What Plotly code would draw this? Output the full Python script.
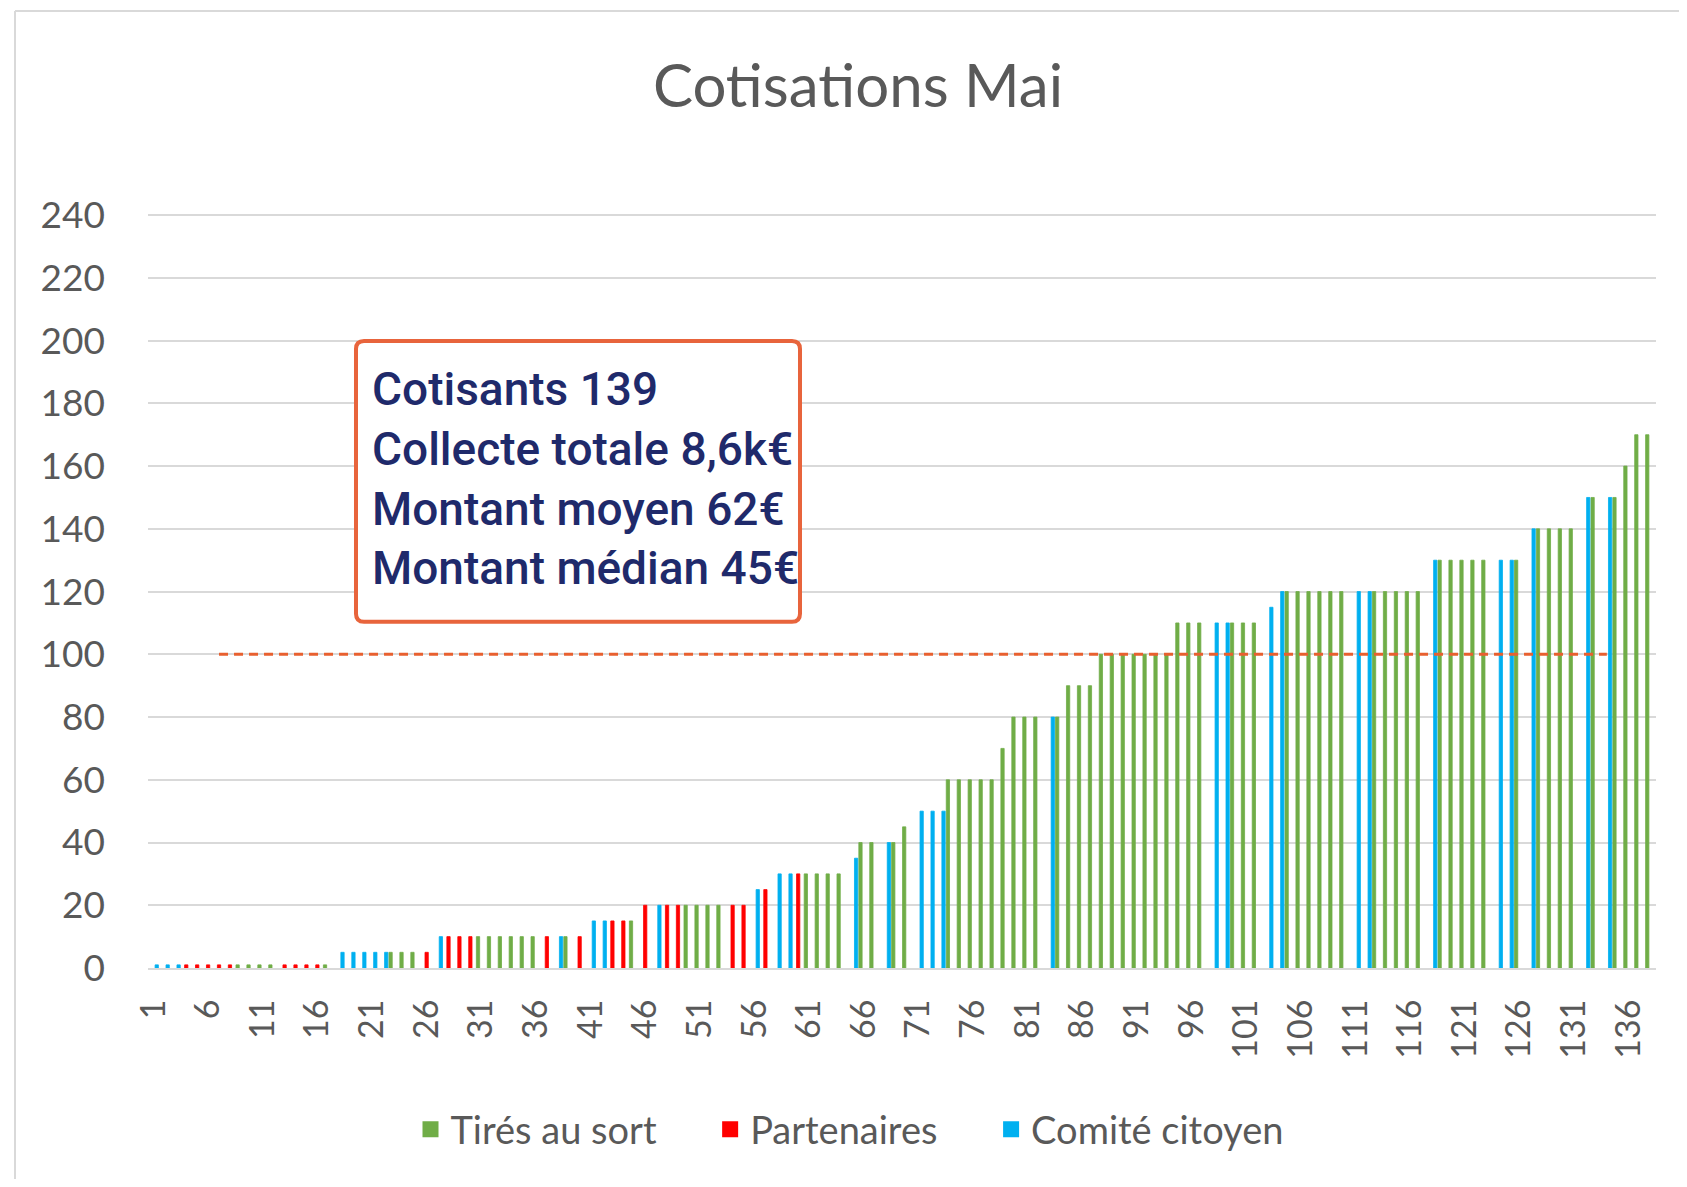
import plotly.graph_objects as go

# ---------------- data ----------------
contributor_ids = list(range(1, 139))

amounts = [
    1, 1, 1, 1, 1, 1, 1, 1, 1, 1, 1, 1, 1, 1, 1, 1, 1,          # 1-17
    5, 5, 5, 5, 5, 5, 5, 5, 5,                                  # 18-26
    10, 10, 10, 10, 10, 10, 10, 10, 10, 10, 10, 10, 10, 10,     # 27-40
    15, 15, 15, 15, 15,                                         # 41-45
    20, 20, 20, 20, 20, 20, 20, 20, 20, 20,                     # 46-55
    25, 25,                                                     # 56-57
    30, 30, 30, 30, 30, 30, 30,                                 # 58-64
    35,                                                         # 65
    40, 40, 40, 40,                                             # 66-69
    45,                                                         # 70
    50, 50, 50,                                                 # 71-73
    60, 60, 60, 60, 60,                                         # 74-78
    70,                                                         # 79
    80, 80, 80, 80, 80,                                         # 80-84
    90, 90, 90,                                                 # 85-87
    100, 100, 100, 100, 100, 100, 100,                          # 88-94
    110, 110, 110, 110, 110, 110, 110, 110,                     # 95-102
    115,                                                        # 103
    120, 120, 120, 120, 120, 120, 120, 120, 120, 120, 120, 120, 120, 120,  # 104-117
    130, 130, 130, 130, 130, 130, 130, 130, 130,                # 118-126
    140, 140, 140, 140, 140,                                    # 127-131
    150, 150, 150, 150,                                         # 132-135
    160, 170, 170,                                              # 136-138
]

# T = Tirés au sort, P = Partenaires, C = Comité citoyen
group_codes = list(
    "CCCPPPPPTTTTPPPPT"
    "CCCCCTTTP"
    "CPPPTTTTTTPCTP"
    "CCPPT"
    "PCPPTTTTPP"
    "CP"
    "CCPTTTT"
    "CTTCTT"
    "CCC"
    "TTTTTTTTT"
    "C"
    "TTTTTTTTTTTTTT"
    "CCTTTCCTTTTTTCCTTTTTCTTTTTCCTCTTTTCTCTTTT"
)

series_names = {"T": "Tirés au sort", "P": "Partenaires", "C": "Comité citoyen"}
series_colors = {"T": "#70AD47", "P": "#FF0000", "C": "#00B0F0"}
series_order = ["T", "P", "C"]

x_tick_values = [1, 6, 11, 16, 21, 26, 31, 36, 41, 46, 51, 56, 61, 66, 71, 76,
                 81, 86, 91, 96, 101, 106, 111, 116, 121, 126, 131, 136]
y_tick_values = [0, 20, 40, 60, 80, 100, 120, 140, 160, 180, 200, 220, 240]

reference_line_value = 100
reference_line_start = 7
reference_line_end = 134

summary_lines = [
    "Cotisants 139",
    "Collecte totale 8,6k€",
    "Montant moyen 62€",
    "Montant médian 45€",
]

title_text = "Cotisations Mai"

# ---------------- geometry (reference pixels, page has 8px body margin) ----
OFF = 8
FW, FH = 1687 - 2 * OFF, 1187 - 2 * OFF
Y_TOP = 241
unit = (968.3 - 215.2) / 240
L_ref, R_ref, B_ref = 148, 1656, 968.3
T_ref = B_ref - Y_TOP * unit
L, R, T, B = L_ref - OFF, R_ref - OFF, T_ref - OFF, B_ref - OFF
W, H = R - L, B - T


def px(x):  # reference x pixel -> paper
    return (x - OFF - L) / W


def py(y):  # reference y pixel -> paper
    return (B - (y - OFF)) / H


# ---------------- figure ----------------
fig = go.Figure()

for code in series_order:
    ys = [a if g == code else None for a, g in zip(amounts, group_codes)]
    fig.add_trace(go.Bar(
        x=contributor_ids, y=ys, name=series_names[code],
        marker=dict(color=series_colors[code],
                    line=dict(width=0.8, color=series_colors[code])),
        showlegend=False, legendgroup=code,
    ))

# legend entries with square swatches
NBSP = "\u00a0"
for code in series_order:
    fig.add_trace(go.Scatter(
        x=[None], y=[None], mode="markers",
        name=series_names[code] + NBSP * 5,
        marker=dict(symbol="square", size=20, color=series_colors[code]),
        legendgroup=code, showlegend=True,
    ))

fig.add_trace(go.Scatter(
    x=[reference_line_start, reference_line_end],
    y=[reference_line_value, reference_line_value],
    mode="lines", showlegend=False, hoverinfo="skip",
    line=dict(color="#E8602F", width=3, dash="9px,6px"),
))

grey = "#595959"
font_family = "Lato, 'Open Sans', sans-serif"

shapes = []
# chart outer border (left and top)
shapes.append(dict(type="line", xref="paper", yref="paper",
                   x0=px(15), x1=px(15), y0=py(11), y1=py(1190),
                   line=dict(color="#D9D9D9", width=2)))
shapes.append(dict(type="line", xref="paper", yref="paper",
                   x0=px(15), x1=px(1690), y0=py(11), y1=py(11),
                   line=dict(color="#D9D9D9", width=2)))

# rounded text box
bx0, bx1, by0, by1, rad = 356, 800, 341, 622, 8


def P(x, y):
    return f"{px(x):.5f},{py(y):.5f}"


path = (f"M {P(bx0 + rad, by0)} L {P(bx1 - rad, by0)} Q {P(bx1, by0)} {P(bx1, by0 + rad)} "
        f"L {P(bx1, by1 - rad)} Q {P(bx1, by1)} {P(bx1 - rad, by1)} "
        f"L {P(bx0 + rad, by1)} Q {P(bx0, by1)} {P(bx0, by1 - rad)} "
        f"L {P(bx0, by0 + rad)} Q {P(bx0, by0)} {P(bx0 + rad, by0)} Z")
shapes.append(dict(type="path", xref="paper", yref="paper", path=path,
                   line=dict(color="#E8643C", width=4), fillcolor="rgba(255,255,255,1)",
                   layer="above"))

annotations = []
line_centers = [389, 449, 509, 568]
for txt, yc in zip(summary_lines, line_centers):
    annotations.append(dict(
        text=txt, xref="paper", yref="paper", x=px(370), y=py(yc),
        xanchor="left", yanchor="middle", showarrow=False,
        font=dict(family="Roboto, sans-serif", size=46, color="#1F2A6B", weight=500),
    ))

fig.update_layout(
    autosize=True,
    margin=dict(l=L, r=FW - R, t=T, b=FH - B, pad=0),
    paper_bgcolor="white", plot_bgcolor="white",
    barmode="group", bargap=0.1, bargroupgap=0,
    title=dict(text=title_text, x=(858 - OFF) / FW, y=1 - (86 - OFF) / FH,
               xanchor="center", yanchor="middle", xref="container", yref="container",
               font=dict(family=font_family, size=60, color=grey)),
    font=dict(family=font_family, color=grey, size=34),
    xaxis=dict(range=[0.5, 138.5], tickmode="array", tickvals=x_tick_values,
               ticktext=[str(v) for v in x_tick_values], tickangle=-90,
               showgrid=False, zeroline=False, showline=True,
               linecolor="#D9D9D9", linewidth=2, ticks="",
               tickfont=dict(size=34, color=grey, family=font_family),
               ticklabelstandoff=16),
    yaxis=dict(range=[0, Y_TOP], tickmode="array", tickvals=y_tick_values,
               showgrid=True, gridcolor="#D9D9D9", gridwidth=2,
               zeroline=False, showline=False, ticks="",
               tickfont=dict(size=37, color=grey, family=font_family),
               ticklabelstandoff=42),
    legend=dict(orientation="h", x=px(874), y=py(1130), xanchor="center",
                yanchor="middle", font=dict(size=38, color=grey, family=font_family),
                traceorder="normal", itemwidth=30),
    shapes=shapes,
    annotations=annotations,
    showlegend=True,
)

fig.write_html("out.html")
